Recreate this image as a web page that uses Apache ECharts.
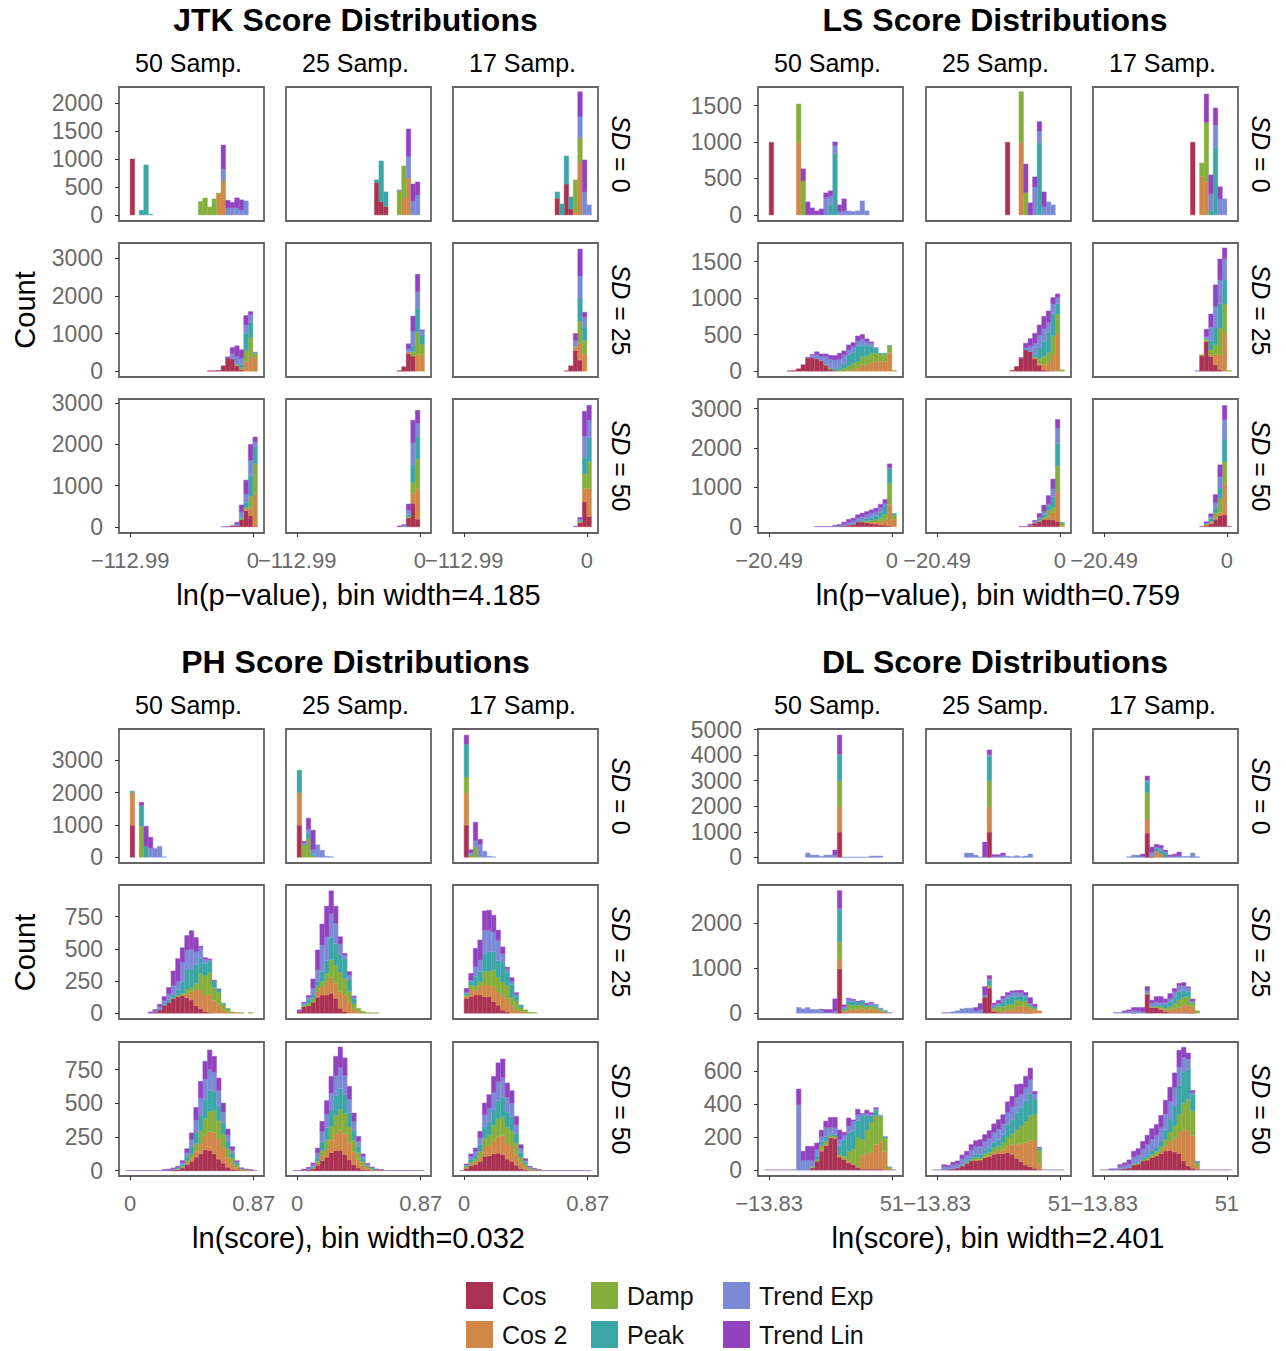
<!DOCTYPE html>
<html>
<head>
<meta charset="utf-8">
<script src="https://cdn.jsdelivr.net/npm/echarts/dist/echarts.min.js"></script>
<style>
html,body{margin:0;padding:0;background:#fff;}
#chart{width:1286px;height:1351px;}
</style>
</head>
<body>
<div id="chart"></div>
<script>
// ---------------- names, colours ----------------
const SERIES_NAMES = ['Cos', 'Cos 2', 'Damp', 'Peak', 'Trend Exp', 'Trend Lin'];
const KEYS = ['cos', 'cos2', 'damp', 'peak', 'exp', 'lin'];
const COLORS = ['#aa3151', '#d08748', '#85ae3a', '#3aa6a6', '#7b8ad5', '#9143bf'];
const COL_LABELS = ['50 Samp.', '25 Samp.', '17 Samp.'];
const ROW_LABELS = ['0', '25', '50'];

// ---------------- bins and ticks ----------------
const JTK_BIN = { e0: -112.99, width: 4.185 };
const LS_BIN  = { e0: -20.49,  width: 0.759 };
const PH_BIN  = { e0: 0,       width: 0.032 };
const DL_BIN  = { e0: -13.83,  width: 2.401 };
const JTK_XTICKS = [-112.99, 0];
const LS_XTICKS  = [-20.49, 0];
const PH_XTICKS  = [0, 0.87];
const DL_XTICKS  = [-13.83, 51];
// y ranges per facet row: [min, max], tick values
const JTK_YRANGE = [[-109, 2286], [-155, 3406], [-150, 3096]];
const JTK_YTICKS = [[0, 500, 1000, 1500, 2000], [0, 1000, 2000, 3000], [0, 1000, 2000, 3000]];
const LS_YRANGE  = [[-84, 1756], [-80, 1755], [-160, 3244]];
const LS_YTICKS  = [[0, 500, 1000, 1500], [0, 500, 1000, 1500], [0, 1000, 2000, 3000]];
const PH_YRANGE  = [[-180, 3975], [-45, 996], [-40, 955]];
const PH_YTICKS  = [[0, 1000, 2000, 3000], [0, 250, 500, 750], [0, 250, 500, 750]];
const DL_YRANGE  = [[-220, 5025], [-130, 2853], [-37, 778]];
const DL_YTICKS  = [[0, 1000, 2000, 3000, 4000, 5000], [0, 1000, 2000], [0, 200, 400, 600]];

// ---------------- counts (bin index 'start' = first array entry) ----------------
// JTK
const JTK_SD0_S50 = { start: 0,
  cos:  [1000],
  cos2: [0,0,0,0,0, 0,0,0,0,0, 0,0,0,0,0, 0,0,0,0, 380,607],
  damp: [0,0,0,0,0, 0,0,0,0,0, 0,0,0,0,0, 238,303,143,286,12],
  peak: [0,0,83,893,10],
  exp:  [0,0,0,0,0, 0,0,0,0,0, 0,0,0,0,0, 0,0,0,0,0, 214,125,125,125,89,250],
  lin:  [0,0,0,0,0, 0,0,0,0,0, 0,0,0,0,0, 0,0,0,0,0, 428,137,100,180,180] };
const JTK_SD0_S25 = { start: 17,
  cos:  [583,238,149],
  cos2: [0,0,0,0,0,0,303,655],
  damp: [0,0,0,0,0,428,571],
  peak: [42,726,262],
  exp:  [0,0,0,0,0,18,0,387,250,357],
  lin:  [0,0,0,0,0,0,0,494,303,232] };
const JTK_SD0_S17 = { start: 20,
  cos:  [298,0,553,107],
  cos2: [0,0,0,0,42,946],
  damp: [0,0,0,0,583,428],
  peak: [113,196,500,214],
  exp:  [0,0,0,0,0,381,411,179],
  lin:  [0,0,0,0,0,446,571] };
const JTK_SD25_S50 = { start: 17,
  cos:  [9,9,18,142,336,327,142,40],
  cos2: [0,0,0,0,0,0,0,0,250,400,350],
  damp: [0,0,0,0,0,0,35,50,300,500,124],
  peak: [0,0,0,0,0,0,0,90,460,390],
  exp:  [0,0,0,0,0,142,204,160,221,212,35],
  lin:  [0,0,0,0,44,159,292,230,248,80] };
const JTK_SD25_S25 = { start: 22,
  cos:  [10,115,470,400],
  cos2: [0,0,44,0,443,443],
  damp: [0,0,0,124,593,274],
  peak: [0,0,0,150,620,248],
  exp:  [0,0,80,390,451,115],
  lin:  [0,0,133,400,469,18] };
const JTK_SD25_S17 = { start: 22,
  cos:  [8,142,549,300],
  cos2: [0,0,88,450,443],
  damp: [0,0,20,584,380],
  peak: [0,0,0,584,354],
  exp:  [0,0,160,610,257],
  lin:  [0,0,186,717,133] };
const JTK_SD50_S50 = { start: 20,
  cos:  [0,0,20,30,176,393,273,8],
  cos2: [0,0,0,0,0,30,200,802],
  damp: [0,0,0,0,20,50,265,722],
  peak: [0,0,0,0,30,120,497,409],
  exp:  [0,0,0,40,136,200,377,120],
  lin:  [5,5,5,40,168,340,385,112] };
const JTK_SD50_S25 = { start: 22,
  cos:  [10,0,216,570,184],
  cos2: [0,0,15,240,738],
  damp: [0,0,20,265,722],
  peak: [0,0,50,425,537],
  exp:  [0,40,100,537,329],
  lin:  [10,10,150,545,313] };
const JTK_SD50_S17 = { start: 24,
  cos:  [0,100,610,249],
  cos2: [0,15,321,674],
  damp: [0,15,361,658],
  peak: [0,15,385,577],
  exp:  [0,40,521,425],
  lin:  [10,40,601,361] };

// LS
const LS_SD0_S50 = { start: 0,
  cos:  [997],
  cos2: [0,0,0,0,0,0,997],
  damp: [0,0,0,0,0,0,526,467],
  peak: [0,0,0,0,0, 0,0,0,0,0, 0,0,0, 137,842],
  exp:  [0,0,0,0,0, 0,0,0,0,0, 0,0, 238,124,110,46,55,55,46,55,192,55],
  lin:  [0,0,0,0,0, 0,0, 165,178,96,55,82,64,69,50,91,165] };
const LS_SD0_S25 = { start: 15,
  cos:  [997],
  cos2: [0,0,0,997],
  damp: [0,0,0,695,306],
  peak: [0,0,0,0,0,0,0,997],
  exp:  [0,0,0,0,0,0,384,155,114,178,137],
  lin:  [0,0,0,0,393,165,137,128,201] };
const LS_SD0_S17 = { start: 19,
  cos:  [997],
  cos2: [0,0,526,457],
  damp: [0,0,187,814],
  peak: [0,0,0,0,55,924],
  exp:  [0,0,0,0,233,311,220,220],
  lin:  [0,0,0,389,261,233,165] };
const LS_SD25_S50 = { start: 4,
  cos:  [5,9,32,87,173,187,169,141,82,27,9],
  cos2: [0,0,0,0,0, 0,0,0,0,0, 0,0,0, 9,27,41,87,87,118,137,137,128,255,9],
  damp: [0,0,0,0,0, 0,0,0, 9,18,0,23,41,64,82,91,114,123,128,109,100,105,91],
  peak: [0,0,0,0,0, 0,0,0,0,0, 27,32,59,150,150,214,155,146,91,68,9,9,5],
  exp:  [0,0,0,0,0, 32,64,59,109,118,118,109,123,68,77,68,87,50,46,9],
  lin:  [0,0,0,0, 18,9,32,36,36,55,59,82,55,68,55,68,59,36,18] };
const LS_SD25_S25 = { start: 16,
  cos:  [9,64,178,292,270,169,82,18,9],
  cos2: [0,0,0,0,0,9,27,73,114,223,510],
  damp: [0,0,0,0,0,18,64,114,137,260,270,18],
  peak: [0,0,0,9,0,36,150,205,269,310,146],
  exp:  [0,0,0,18,77,150,169,173,141,128,82],
  lin:  [0,0,9,64,100,137,141,169,155,87,50] };
const LS_SD25_S17 = { start: 20,
  cos:  [0,210,406,200,87,18],
  cos2: [0,9,14,23,146,205,520],
  damp: [0,5,18,68,128,365,401,9],
  peak: [0,0,9,128,242,342,328],
  exp:  [9,0,27,182,283,319,292],
  lin:  [0,0,100,182,296,287,146] };
const LS_SD50_S50 = { start: 10,
  cos:  [0,0,0,0,0,9,25,42,60,118,118,100,84,67,50,42,17],
  cos2: [0,0,0,0,0,0,0,0,0,0,0,25,25,50,76,126,546,185],
  damp: [0,0,0,0,0,0,0,0,5,0,9,25,50,67,101,143,546,118],
  peak: [0,0,0,0,0,0,0,0,0,17,34,67,84,92,143,235,370,34],
  exp:  [0,0,0,0,17,25,42,76,84,92,100,92,109,109,109,42,17],
  lin:  [4,4,4,4,17,25,51,67,69,76,84,76,77,86,92,101,100] };
const LS_SD50_S25 = { start: 18,
  cos:  [0,0,34,92,134,185,185,176,134],
  cos2: [0,0,0,0,9,9,67,193,756,34],
  damp: [0,0,0,9,17,42,160,126,655,59],
  peak: [0,0,0,0,42,76,126,269,563,17],
  exp:  [0,0,17,42,34,76,42,200,400],
  lin:  [8,8,17,17,100,160,210,245,213] };
const LS_SD50_S17 = { start: 21,
  cos:  [0,34,76,185,286,302],
  cos2: [0,9,25,34,67,800],
  damp: [0,25,34,134,370,550],
  peak: [0,0,67,118,260,571],
  exp:  [0,25,59,143,286,496],
  lin:  [8,34,67,202,302,361,8] };

// PH
const PH_SD0_S50 = { start: 0,
  cos:  [993],
  cos2: [1003],
  damp: [0,0,962],
  peak: [52,0,651,341],
  exp:  [0,0,0,0,279,279,341,9],
  lin:  [0,0,93,620,341] };
const PH_SD0_S25 = { start: 0,
  cos:  [993],
  cos2: [1003],
  damp: [0,383,569,38],
  peak: [703,30,176,50],
  exp:  [0,30,124,150,383,217,31,10],
  lin:  [0,50,341,600] };
const PH_SD0_S17 = { start: 0,
  cos:  [993],
  cos2: [1003],
  damp: [496,60,320,20],
  peak: [1013,20],
  exp:  [0,60,196,382,186,31,10],
  lin:  [279,90,569,155] };
const PH_SD25_S50 = { start: 4,
  cos:  [0,8,25,60,85,115,129,137,121,103,59,36,13,5],
  cos2: [0,0,0,0,0,0,5,8,31,65,121,145,129,140,100,70,30,15,3,5,0,0,5],
  damp: [0,0,0,0,0,5,5,10,36,31,52,129,150,170,100,90,40,18,7,0,5],
  peak: [0,0,5,10,20,25,42,90,155,145,147,121,96,90,50,26,8,3],
  exp:  [0,10,20,30,45,70,65,150,147,152,98,80,31,10,3],
  lin:  [10,12,20,30,50,113,178,114,114,145,111,10,13,7,3,3] };
const PH_SD25_S25 = { start: 0,
  cos:  [13,52,59,85,124,142,142,155,116,39,13],
  cos2: [0,0,0,0,44,62,103,124,116,129,129,90,34,13,0,0,0,3],
  damp: [0,8,18,31,39,41,67,137,142,150,129,78,39,26,15,5,3],
  peak: [0,10,26,26,39,78,98,173,168,140,150,90,40],
  exp:  [0,10,21,52,90,207,184,184,155,80,30,39,10],
  lin:  [13,5,13,72,155,163,238,178,134,56,14,26,11] };
const PH_SD25_S17 = { start: 0,
  cos:  [116,129,142,142,129,129,90,62,24,10],
  cos2: [13,52,36,72,90,90,116,103,116,103,62,26,15,10],
  damp: [13,34,41,31,108,108,129,116,103,103,62,70,30,16,8,5],
  peak: [13,31,65,80,137,150,142,127,155,103,100,34,15],
  exp:  [10,10,78,88,181,168,155,158,65,26,26,15,5],
  lin:  [29,54,142,156,150,155,129,80,52,13,26,15] };
const PH_SD50_S50 = { start: 7, zeroLine: true,
  cos:  [0,3,5,8,20,45,70,100,125,155,150,125,85,55,25,10,4],
  cos2: [0,0,0,2,5,12,25,45,80,110,140,160,150,115,75,45,20,7,5,3],
  damp: [0,0,0,3,8,18,30,55,90,125,150,160,135,100,65,40,18,6,4,2],
  peak: [0,0,3,6,14,30,50,80,115,140,155,145,115,85,55,33,14,3],
  exp:  [3,4,5,6,12,28,55,95,130,150,155,140,110,80,45,25,10,2],
  lin:  [4,5,7,7,15,30,50,95,123,132,146,119,93,67,44,25,8,2,3,2] };
const PH_SD50_S25 = { start: 1, zeroLine: true,
  cos:  [3,6,14,40,75,100,135,150,150,120,80,45,20,8,3],
  cos2: [0,0,3,12,35,60,90,125,150,155,130,95,60,32,15,8,4,2],
  damp: [0,0,5,18,40,70,105,135,155,150,115,85,55,28,13,7,3,2],
  peak: [0,4,10,30,65,90,120,145,155,140,105,75,45,22,9,4,2],
  exp:  [4,7,12,33,75,100,125,150,155,140,100,65,38,17,7,4],
  lin:  [5,8,13,35,76,100,125,144,153,132,96,63,37,17,7,4,3,3] };
const PH_SD50_S17 = { start: 0, zeroLine: true,
  cos:  [15,35,45,70,105,110,125,130,120,85,70,40,15,5],
  cos2: [8,15,20,35,65,75,100,125,140,120,115,85,45,22,9,5,3],
  damp: [7,15,22,38,70,80,110,130,140,115,110,80,40,20,8,4,2],
  peak: [8,20,28,50,85,100,120,135,145,115,105,70,35,16,6,2],
  exp:  [6,19,26,50,90,100,125,140,145,110,100,65,30,13,5,2],
  lin:  [6,20,27,49,87,99,120,140,139,106,94,63,28,13,4,2,2] };

// DL
const DL_SD0_S50 = { start: 8,
  cos:  [0,0,0,0,0,0,0,992],
  cos2: [0,0,0,0,0,0,0,992],
  damp: [0,0,0,0,0,0,0,1018],
  peak: [0,0,0,0,0,0,0,1005],
  exp:  [170,91,91,39,91,91,91,40,13,13,13,13,13,13,52,52,52],
  lin:  [0,0,0,0,0,0,196,740] };
const DL_SD0_S25 = { start: 6,
  cos:  [0,0,0,0,0,992],
  cos2: [0,0,0,0,0,992],
  damp: [0,0,0,0,0,1018],
  peak: [0,0,0,0,0,953],
  exp:  [170,170,91,13,20,80,40,40,78,52,26,65,26,52,130],
  lin:  [0,0,0,0,580,170,64,64,92] };
const DL_SD0_S17 = { start: 5,
  cos:  [0,0,0,0,953,13],
  cos2: [0,0,0,0,548,26,248,143,13],
  damp: [0,0,0,0,1031],
  peak: [0,0,0,0,444,26,117,117,170],
  exp:  [26,91,91,39,39,140,40,105,30,40,60,60,39,39,170,26],
  lin:  [0,0,0,91,170,200,104,105,74,51,70,149] };
const DL_SD25_S50 = { start: 6,
  cos:  [0,0,0,0,0,0,0,0,15,986,20],
  cos2: [0,0,0,0,0,0,0,0,0,215,20,74,81,89,111,74,111,81,59,37],
  damp: [0,0,0,0,0,0,0,0,0,393,30,111,89,81,74,74,52,44,15],
  peak: [0,0,0,0,0,0,0,0,0,704,40,74,89,67,89,37,22,22,22,22],
  exp:  [126,96,126,81,81,81,20,15,30,37,30,59,37,7,7,0,37,52,15,0,15],
  lin:  [0,0,0,0,0,8,61,66,274,393,45,15,15,22,0,37,22] };
const DL_SD25_S25 = { start: 1,
  cos:  [0,0,0,0,0,0,0,0,0,356,556,37,22,15,15,15,15,15,10,5],
  cos2: [0,0,0,0,0,0,0,0,0,0,15,44,30,22,59,74,133,133,137,106,74,52],
  damp: [0,0,0,0,0,0,0,0,0,0,44,30,96,111,111,111,141,126,126,52,37],
  peak: [0,0,0,0,0,0,0,0,0,0,118,30,37,111,148,170,89,104,89,37,37],
  exp:  [15,15,30,52,96,111,111,50,80,50,30,44,37,74,74,89,89,81,44,22],
  lin:  [0,0,0,0,0,0,0,76,135,187,74,37,67,45,52,37,37,52,52,126,52] };
const DL_SD25_S17 = { start: 2,
  cos:  [0,0,0,0,5,0,0,422,126,126,74,37,15,15,15,15,10,5],
  cos2: [0,0,0,0,0,0,0,0,0,0,37,37,67,89,111,163,155,140],
  damp: [0,0,0,0,0,0,0,22,22,22,37,37,59,111,170,178,200,74,52],
  peak: [0,0,0,0,0,0,0,0,0,30,37,74,111,148,185,156,111,15],
  exp:  [15,15,22,44,52,52,30,60,81,67,52,59,74,111,133,96,89,37],
  lin:  [0,0,30,30,69,74,96,89,60,126,133,74,111,74,52,74,22,44] };
const DL_SD50_S50 = { start: 6, zeroLine: true,
  cos:  [0,0,0,12,53,114,148,195,191,77,63,43,32,16,5,5,5,5,5],
  cos2: [0,0,0,0,0,8,8,5,5,12,10,10,5,4,85,95,105,150,170,113,6],
  damp: [0,0,0,10,10,30,16,10,10,5,10,61,90,180,95,142,182,174,152,81,10],
  peak: [0,0,0,0,26,20,30,10,10,55,100,111,111,101,144,87,36,34,0,6,2],
  exp:  [397,59,59,35,35,30,55,40,40,35,30,41,60,36,10,14,10,10,6,4],
  lin:  [95,55,85,87,40,40,40,60,64,59,16,50,6,32,4,20,10,6] };
const DL_SD50_S25 = { start: 1, zeroLine: true,
  cos:  [0,4,6,12,24,40,55,58,60,75,80,95,100,100,105,95,70,50,30,20,10],
  cos2: [0,0,0,0,0,0,0,4,4,6,8,12,16,25,40,60,85,110,135,160,170,40],
  damp: [0,0,0,0,4,6,10,12,12,18,20,26,30,40,55,65,90,110,130,150,160,80],
  peak: [0,0,0,0,4,8,12,20,20,24,28,34,40,50,75,85,105,110,125,135,90,10],
  exp:  [20,14,25,25,35,35,45,48,48,50,55,60,62,65,75,80,90,80,80,85,30,5],
  lin:  [12,10,16,18,24,25,32,36,40,42,48,53,58,56,64,63,79,63,70,70,18,3] };
const DL_SD50_S17 = { start: 1, zeroLine: true,
  cos:  [0,0,4,8,12,30,35,55,60,75,85,100,115,120,110,100,55,25,10],
  cos2: [0,0,0,0,0,0,0,0,4,6,10,16,30,50,80,130,190,215,200,20],
  damp: [0,0,4,0,0,4,6,8,10,14,18,25,40,60,80,110,160,190,150,20],
  peak: [0,0,0,0,0,4,6,10,16,22,26,35,60,80,120,175,190,180,100,10],
  exp:  [4,4,14,20,25,40,45,55,65,70,72,80,95,105,110,110,90,65,10,3],
  lin:  [2,2,10,15,24,36,38,46,56,64,65,76,84,88,90,103,61,36,14] };

// ---------------- layout (not data) ----------------
const FONT = "'Liberation Sans', Arial, Helvetica, sans-serif";
const FACET_W = 145, FACET_H = 134;
const PANELS = [
  { title: 'JTK Score Distributions', xTitle: 'ln(p\u2212value), bin width=4.185', bin: JTK_BIN,
    xticks: JTK_XTICKS, yrange: JTK_YRANGE, yticks: JTK_YTICKS, count: true,
    cols: [119, 286, 453], rows: [87, 243, 399],
    facets: [[JTK_SD0_S50, JTK_SD0_S25, JTK_SD0_S17], [JTK_SD25_S50, JTK_SD25_S25, JTK_SD25_S17], [JTK_SD50_S50, JTK_SD50_S25, JTK_SD50_S17]] },
  { title: 'LS Score Distributions', xTitle: 'ln(p\u2212value), bin width=0.759', bin: LS_BIN,
    xticks: LS_XTICKS, yrange: LS_YRANGE, yticks: LS_YTICKS, count: false,
    cols: [758, 926, 1093], rows: [87, 243, 399],
    facets: [[LS_SD0_S50, LS_SD0_S25, LS_SD0_S17], [LS_SD25_S50, LS_SD25_S25, LS_SD25_S17], [LS_SD50_S50, LS_SD50_S25, LS_SD50_S17]] },
  { title: 'PH Score Distributions', xTitle: 'ln(score), bin width=0.032', bin: PH_BIN,
    xticks: PH_XTICKS, yrange: PH_YRANGE, yticks: PH_YTICKS, count: true,
    cols: [119, 286, 453], rows: [729, 885, 1042],
    facets: [[PH_SD0_S50, PH_SD0_S25, PH_SD0_S17], [PH_SD25_S50, PH_SD25_S25, PH_SD25_S17], [PH_SD50_S50, PH_SD50_S25, PH_SD50_S17]] },
  { title: 'DL Score Distributions', xTitle: 'ln(score), bin width=2.401', bin: DL_BIN,
    xticks: DL_XTICKS, yrange: DL_YRANGE, yticks: DL_YTICKS, count: false,
    cols: [758, 926, 1093], rows: [729, 885, 1042],
    facets: [[DL_SD0_S50, DL_SD0_S25, DL_SD0_S17], [DL_SD25_S50, DL_SD25_S25, DL_SD25_S17], [DL_SD50_S50, DL_SD50_S25, DL_SD50_S17]] }
];

function fmtNum(v) { return v < 0 ? '\u2212' + String(-v) : String(v); }

function stackFacet(f, bin) {
  const len = Math.max.apply(null, KEYS.map(k => f[k].length));
  const base = new Array(len).fill(0);
  return KEYS.map(k => {
    const out = [];
    f[k].forEach((v, i) => {
      if (v > 0) {
        const b = f.start + i;
        out.push([bin.e0 + b * bin.width, bin.e0 + (b + 1) * bin.width, base[i], base[i] + v]);
        base[i] += v;
      }
    });
    return out;
  });
}

function rectRenderer(color) {
  const edge = echarts.color.lift(color, 0.12);
  return function (params, api) {
    const a = api.coord([api.value(0), api.value(3)]);
    const b = api.coord([api.value(1), api.value(2)]);
    return { type: 'rect', shape: { x: a[0], y: a[1], width: b[0] - a[0], height: b[1] - a[1] },
      style: { fill: color, stroke: edge, lineWidth: 0.5 } };
  };
}
function zeroRenderer(params, api) {
  const a = api.coord([api.value(0), 0]);
  const b = api.coord([api.value(1), 0]);
  return { type: 'line', shape: { x1: a[0], y1: a[1], x2: b[0], y2: b[1] },
    style: { stroke: '#9a86b4', lineWidth: 1 } };
}

function text(x, y, str, size, extra) {
  extra = extra || {};
  return {
    type: 'text', x: x, y: y, rotation: extra.rotation || 0, silent: true,
    style: Object.assign({
      text: str, fill: extra.color || '#000', fontSize: size, fontFamily: FONT,
      fontWeight: extra.weight || 'normal',
      align: 'center', verticalAlign: 'middle', textAlign: 'center', textVerticalAlign: 'middle'
    }, extra.rich ? { rich: extra.rich } : {})
  };
}

const grids = [], xAxes = [], yAxes = [], series = [], graphics = [];

PANELS.forEach(p => {
  const lo = p.bin.e0 - p.bin.width, hi = p.bin.e0 + 28 * p.bin.width;
  const pad = 0.05 * (hi - lo);
  const xmin = lo - pad, xmax = hi + pad;
  p.facets.forEach((rowFacets, r) => {
    rowFacets.forEach((f, c) => {
      const gi = grids.length;
      grids.push({ left: p.cols[c], top: p.rows[r], width: FACET_W, height: FACET_H, show: true,
        borderColor: '#636363', borderWidth: 1.8, backgroundColor: '#fff' });
      const bottom = r === 2, leftCol = c === 0;
      xAxes.push({ type: 'value', gridIndex: gi, min: xmin, max: xmax, position: 'bottom',
        axisLine: { show: false, onZero: false }, splitLine: { show: false },
        axisTick: { show: bottom, length: 4, lineStyle: { color: '#333', width: 1 }, customValues: p.xticks },
        axisLabel: { show: bottom, customValues: p.xticks, formatter: fmtNum, fontSize: 22, color: '#6a6a6a',
          fontFamily: FONT, margin: 16 } });
      yAxes.push({ type: 'value', gridIndex: gi, min: p.yrange[r][0], max: p.yrange[r][1], position: 'left',
        axisLine: { show: false, onZero: false }, splitLine: { show: false },
        axisTick: { show: leftCol, length: 4, lineStyle: { color: '#333', width: 1 }, customValues: p.yticks[r] },
        axisLabel: { show: leftCol, customValues: p.yticks[r], formatter: v => String(v), fontSize: 23,
          color: '#6a6a6a', fontFamily: FONT, margin: 16 } });
      if (f.zeroLine) {
        series.push({ type: 'custom', xAxisIndex: gi, yAxisIndex: gi, silent: true, animation: false,
          renderItem: zeroRenderer, data: [[lo, hi]], encode: { x: [0, 1] } });
      }
      const stacks = stackFacet(f, p.bin);
      stacks.forEach((data, si) => {
        series.push({ type: 'custom', name: SERIES_NAMES[si], xAxisIndex: gi, yAxisIndex: gi,
          silent: true, animation: false, itemStyle: { color: COLORS[si] },
          renderItem: rectRenderer(COLORS[si]), data: data, encode: { x: [0, 1], y: [2, 3] } });
      });
    });
  });
  const left = p.cols[0], right = p.cols[2] + FACET_W;
  const mid = (left + right) / 2;
  const top = p.rows[0], bot = p.rows[2] + FACET_H;
  graphics.push(text(mid - 3, top - 67, p.title, 32, { weight: 'bold' }));
  p.cols.forEach((cx, c) => graphics.push(text(cx + FACET_W / 2 - 3, top - 24, COL_LABELS[c], 25)));
  p.rows.forEach((ry, r) => graphics.push(text(right + 23, ry + FACET_H / 2, '{i|SD}{n| = ' + ROW_LABELS[r] + '}', 25, {
    rotation: -Math.PI / 2,
    rich: { i: { fontStyle: 'italic', fontSize: 25, fontFamily: FONT, fill: '#000' },
            n: { fontSize: 25, fontFamily: FONT, fill: '#000' } } })));
  graphics.push(text(mid, bot + 62, p.xTitle, 29));
  if (p.count) graphics.push(text(25, (top + bot) / 2, 'Count', 29, { rotation: Math.PI / 2 }));
});

const legendBase = { orient: 'vertical', top: 1282, itemWidth: 27, itemHeight: 27, itemGap: 12, icon: 'rect',
  selectedMode: false, padding: 0,
  textStyle: { fontSize: 25, fontFamily: FONT, color: '#111', lineHeight: 27, padding: [0, 0, 0, 4] } };

const option = {
  backgroundColor: '#fff',
  animation: false,
  grid: grids, xAxis: xAxes, yAxis: yAxes, series: series,
  legend: [
    Object.assign({}, legendBase, { left: 466, data: ['Cos', 'Cos 2'] }),
    Object.assign({}, legendBase, { left: 591, data: ['Damp', 'Peak'] }),
    Object.assign({}, legendBase, { left: 723, data: ['Trend Exp', 'Trend Lin'] })
  ],
  graphic: { elements: graphics }
};

const chart = echarts.init(document.getElementById('chart'), null, { renderer: 'svg', width: 1286, height: 1351 });
chart.setOption(option);
</script>
</body>
</html>
